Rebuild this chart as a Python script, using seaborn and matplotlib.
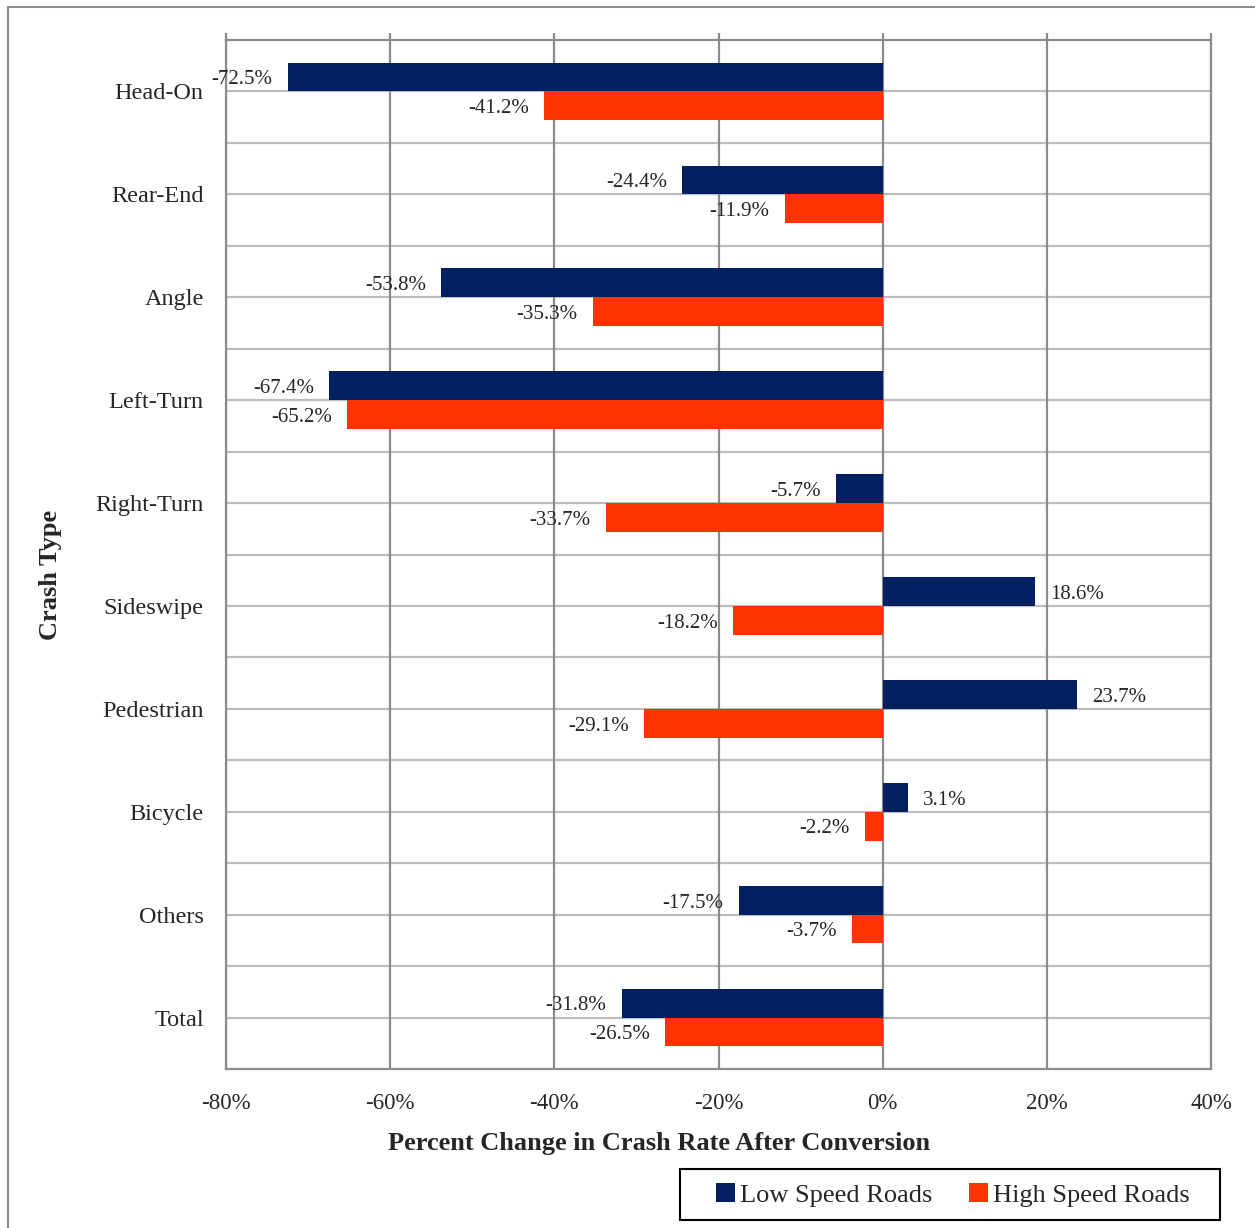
"""
Percent change in crash rate after conversion, by crash type.
"""

import matplotlib
matplotlib.use("Agg")
import matplotlib.pyplot as plt
import matplotlib.patches as mpatches
import pandas as pd
import seaborn as sns

# data
crash_types = ['Head-On', 'Rear-End', 'Angle', 'Left-Turn', 'Right-Turn',
               'Sideswipe', 'Pedestrian', 'Bicycle', 'Others', 'Total']
low_speed = [-72.5, -24.4, -53.8, -67.4, -5.7, 18.6, 23.7, 3.1, -17.5, -31.8]
high_speed = [-41.2, -11.9, -35.3, -65.2, -33.7, -18.2, -29.1, -2.2, -3.7, -26.5]
series_names = ['Low Speed Roads', 'High Speed Roads']
series_colors = ['#002060', '#FF3300']
x_ticks = [-80, -60, -40, -20, 0, 20, 40]

df = pd.DataFrame({
    'Crash Type': crash_types * 2,
    'Change': low_speed + high_speed,
    'Road': [series_names[0]] * len(crash_types) + [series_names[1]] * len(crash_types),
})

sns.set_theme(style='white')
plt.rcParams['font.family'] = ['Liberation Serif', 'DejaVu Serif']
plt.rcParams['axes.unicode_minus'] = False

W, H = 1255, 1228
fig = plt.figure(figsize=(W / 100, H / 100), dpi=100)
ax = fig.add_axes([226 / W, 1 - 1069 / H, 985 / W, 1029 / H])

sns.barplot(data=df, x='Change', y='Crash Type', hue='Road', orient='h',
            palette=series_colors, width=0.56, dodge=True, ax=ax,
            saturation=1, linewidth=0, legend=True)

# grid: vertical at ticks (darker), horizontal at centres and boundaries (lighter)
ax.set_xlim(-80, 40)
ax.set_ylim(len(crash_types) - 0.5, -0.5)
ax.set_xticks(x_ticks)
ax.set_xticklabels([f'{t}%' for t in x_ticks])
ax.set_axisbelow(True)
ax.xaxis.grid(True, color='#8c8c8c', linewidth=1.6)
for i in range(len(crash_types)):
    ax.axhline(i, color='#bdbdbd', linewidth=1.6, zorder=0)
    if i > 0:
        ax.axhline(i - 0.5, color='#bdbdbd', linewidth=1.6, zorder=0)

for sp in ax.spines.values():
    sp.set_color('#8c8c8c')
    sp.set_linewidth(1.6)

ax.tick_params(axis='x', top=True, bottom=False, labeltop=False, labelbottom=True,
               direction='out', length=5, width=1.6, color='#8c8c8c',
               labelsize=16.5, pad=12)
ax.tick_params(axis='y', left=False, labelsize=17.5, pad=10)

# value labels (sit a touch below bar centre, like the original)
for cont, vals in zip(ax.containers, [low_speed, high_speed]):
    texts = ax.bar_label(cont, labels=[f'{v:.1f}%' for v in vals], padding=11, fontsize=15)
    for t in texts:
        t.xyann = (t.xyann[0], -2)

ax.set_xlabel('Percent Change in Crash Rate After Conversion', fontsize=19, fontweight='bold')
ax.xaxis.set_label_coords(0.44, -0.061)
ax.set_ylabel('Crash Type', fontsize=19, fontweight='bold')
ax.yaxis.set_label_coords(-0.166, 0.48)

handles, labels = ax.get_legend_handles_labels()
leg = ax.legend(handles, labels, ncol=2, loc='center', fontsize=19,
                bbox_to_anchor=(953 / W, 1 - 1195 / H), bbox_transform=fig.transFigure,
                frameon=False, handlelength=0.7, handleheight=0.7, handletextpad=0.2,
                columnspacing=1.4, borderpad=0, borderaxespad=0)

# legend box and outer chart border (cut off at right and bottom in the reference)
fig.patches.append(mpatches.Rectangle((680 / W, 1 - 1220 / H), 540 / W, 51 / H,
                                      transform=fig.transFigure, fill=False,
                                      edgecolor='black', linewidth=1.5))
fig.patches.append(mpatches.Rectangle((8 / W, -0.2), 1.5, 1.2 - 7 / H,
                                      transform=fig.transFigure, fill=False,
                                      edgecolor='#8c8c8c', linewidth=1.5))

fig.savefig('out.png', dpi=100)
